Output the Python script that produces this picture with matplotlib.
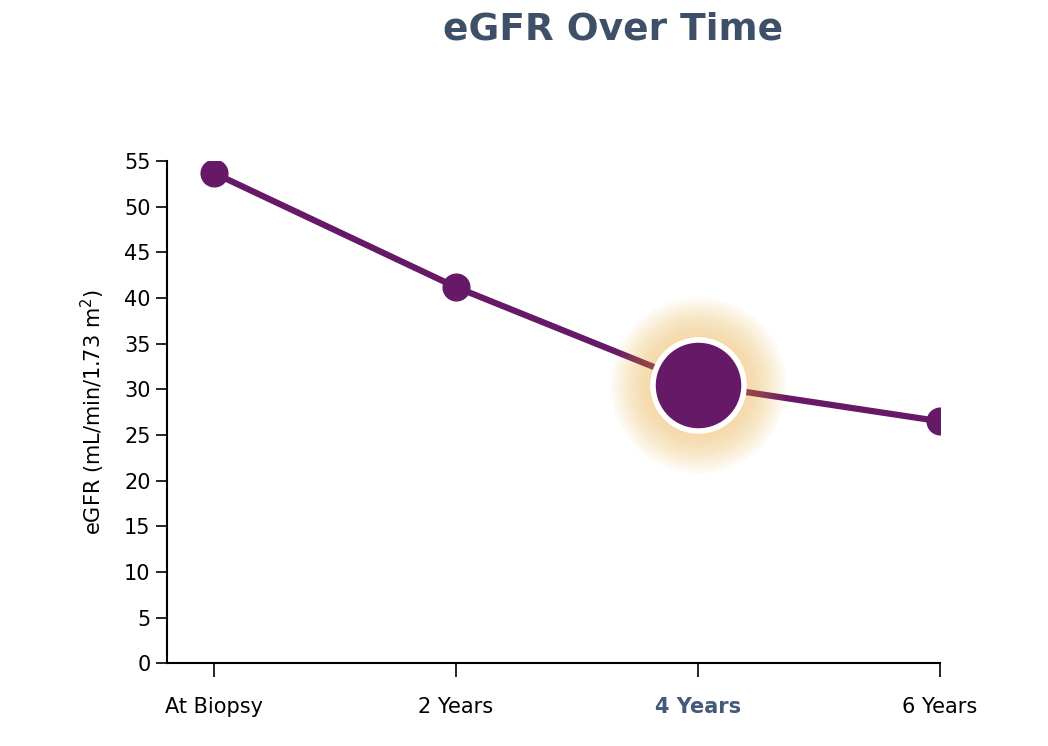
import matplotlib.pyplot as plt

timepoints = ['At Biopsy', '2 Years', '4 Years', '6 Years']
egfr = [53.7, 41.2, 30.5, 26.5]
highlight = 2

purple = '#661966'
fig = plt.figure(figsize=(10.48, 7.46), dpi=100)
ax = fig.add_axes([0.159, 0.111, 0.738, 0.673])

x = list(range(len(timepoints)))
ax.plot(x, egfr, color=purple, lw=4.5, zorder=2)
others = [i for i in x if i != highlight]
ax.scatter(others, [egfr[i] for i in others], s=370, color=purple, zorder=3)

# soft glow behind highlighted point
for k in range(14):
    ax.scatter([highlight], [egfr[highlight]], s=4300 + k * 900, color='#f5a623',
               alpha=0.035, linewidths=0, zorder=2.5)
ax.scatter([highlight], [egfr[highlight]], s=4300, color=purple,
           edgecolors='white', linewidths=4, zorder=4)

ax.set_xlim(-0.195, 3.0)
ax.set_ylim(0, 55)
ax.set_yticks(range(0, 56, 5))
ax.set_xticks(x)
ax.set_xticklabels(timepoints)
for i, lab in enumerate(ax.get_xticklabels()):
    if i == highlight:
        lab.set_fontweight('bold')
        lab.set_color('#445a7a')
ax.tick_params(axis='x', length=10, width=1.2, pad=14, labelsize=15)
ax.tick_params(axis='y', length=8, width=1.2, labelsize=15)
for s in ['top', 'right']:
    ax.spines[s].set_visible(False)
for s in ['left', 'bottom']:
    ax.spines[s].set_linewidth(1.5)
ax.set_ylabel('eGFR (mL/min/1.73 m$^2$)', fontsize=15, labelpad=12)

fig.text(0.585, 0.96, 'eGFR Over Time', ha='center', va='center',
         fontsize=27, fontweight='bold', color='#3d5068')

fig.savefig('out.png', dpi=100)
